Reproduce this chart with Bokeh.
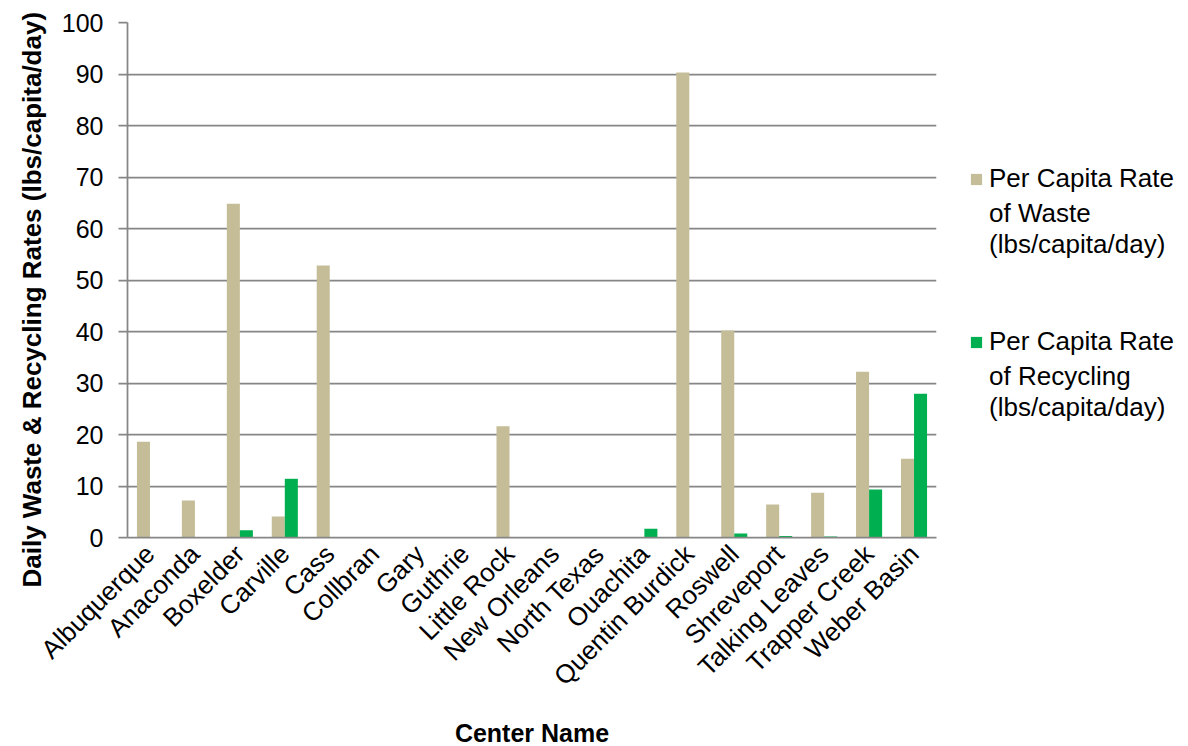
import math
from bokeh.plotting import figure
from bokeh.models import FactorRange, Range1d, FixedTicker, Legend, LegendItem, ColumnDataSource, Title
from bokeh.transform import dodge
from bokeh.core.properties import value
from bokeh.embed import file_html
from bokeh.resources import INLINE

centers = ["Albuquerque", "Anaconda", "Boxelder", "Carville", "Cass", "Collbran", "Gary",
           "Guthrie", "Little Rock", "New Orleans", "North Texas", "Ouachita",
           "Quentin Burdick", "Roswell", "Shreveport", "Talking Leaves", "Trapper Creek",
           "Weber Basin"]
waste = [18.6, 7.2, 64.8, 4.1, 52.8, 0, 0, 0, 21.6, 0, 0, 0, 90.3, 40.2, 6.4, 8.7, 32.2, 15.3]
recycling = [0, 0, 1.4, 11.4, 0, 0, 0, 0, 0, 0, 0, 1.7, 0, 0.8, 0.3, 0.2, 9.3, 27.9]
y_ticks = list(range(0, 101, 10))
waste_label = ["Per Capita Rate", "of Waste", "(lbs/capita/day)"]
recycling_label = ["Per Capita Rate", "of Recycling", "(lbs/capita/day)"]
x_title = "Center Name"
y_title = "Daily Waste & Recycling Rates (lbs/capita/day)"

FONT = "Liberation Sans"
GRID = "#868686"

src = ColumnDataSource(dict(center=centers, waste=waste, recycling=recycling))

p = figure(x_range=FactorRange(*centers), y_range=Range1d(0, 100),
           frame_width=809, frame_height=515,
           min_border_left=127, min_border_right=236, min_border_top=22, min_border_bottom=206,
           output_backend="svg", toolbar_location=None)
p.outline_line_color = None
p.background_fill_color = "white"

r1 = p.vbar(x=dodge("center", -0.145, range=p.x_range), top="waste", width=0.29,
            source=src, fill_color="#C4BD97", line_color=None)
r2 = p.vbar(x=dodge("center", 0.145, range=p.x_range), top="recycling", width=0.29,
            source=src, fill_color="#00B050", line_color=None)
# invisible renderer used only for continuation lines of the legend
r_blank = p.vbar(x=[], top=[], width=0.1, fill_alpha=0, line_alpha=0)

p.xgrid.grid_line_color = None
p.ygrid.grid_line_color = GRID
p.ygrid.grid_line_width = 1.75
p.ygrid.level = "underlay"

p.yaxis.ticker = FixedTicker(ticks=y_ticks)
p.yaxis.axis_line_color = GRID
p.yaxis.axis_line_width = 1.75
p.yaxis.major_tick_line_color = GRID
p.yaxis.major_tick_line_width = 1.75
p.yaxis.major_tick_out = 9
p.yaxis.major_tick_in = 0
p.yaxis.minor_tick_line_color = None
p.yaxis.major_label_text_font = FONT
p.yaxis.major_label_text_font_size = "25px"
p.yaxis.major_label_text_color = "black"
p.yaxis.major_label_standoff = 15

p.add_layout(Title(text=y_title, align="left", offset=-50, standoff=24,
                   text_font=FONT, text_font_style="bold", text_font_size="26px",
                   text_color="black"), "left")

p.xaxis.axis_line_color = GRID
p.xaxis.axis_line_width = 1.75
p.xaxis.major_tick_line_color = None
p.xaxis.minor_tick_line_color = None
p.xaxis.major_label_orientation = math.pi / 4
p.xaxis.major_label_text_font = FONT
p.xaxis.major_label_text_font_size = "26px"
p.xaxis.major_label_text_color = "black"
p.xaxis.major_label_standoff = 6
p.xaxis.axis_label = x_title
p.xaxis.axis_label_text_font = FONT
p.xaxis.axis_label_text_font_style = "bold"
p.xaxis.axis_label_text_font_size = "25px"
p.xaxis.axis_label_text_color = "black"
p.xaxis.axis_label_standoff = 14

legend = Legend(items=[
    LegendItem(label=value(waste_label[0]), renderers=[r1]),
    LegendItem(label=value("\n".join(waste_label[1:]) + "\n\n\n"), renderers=[r_blank]),
    LegendItem(label=value(recycling_label[0]), renderers=[r2]),
    LegendItem(label=value("\n".join(recycling_label[1:])), renderers=[r_blank]),
], location=(33, 114))
legend.margin = 0
legend.padding = 0
legend.spacing = 4
legend.border_line_color = None
legend.background_fill_alpha = 0
legend.glyph_width = 14
legend.glyph_height = 14
legend.label_standoff = 6
legend.label_text_font = FONT
legend.label_text_font_size = "26px"
legend.label_text_color = "black"
legend.label_text_line_height = 1.2
p.add_layout(legend, "right")

open("out.html", "w").write(file_html(p, INLINE))
